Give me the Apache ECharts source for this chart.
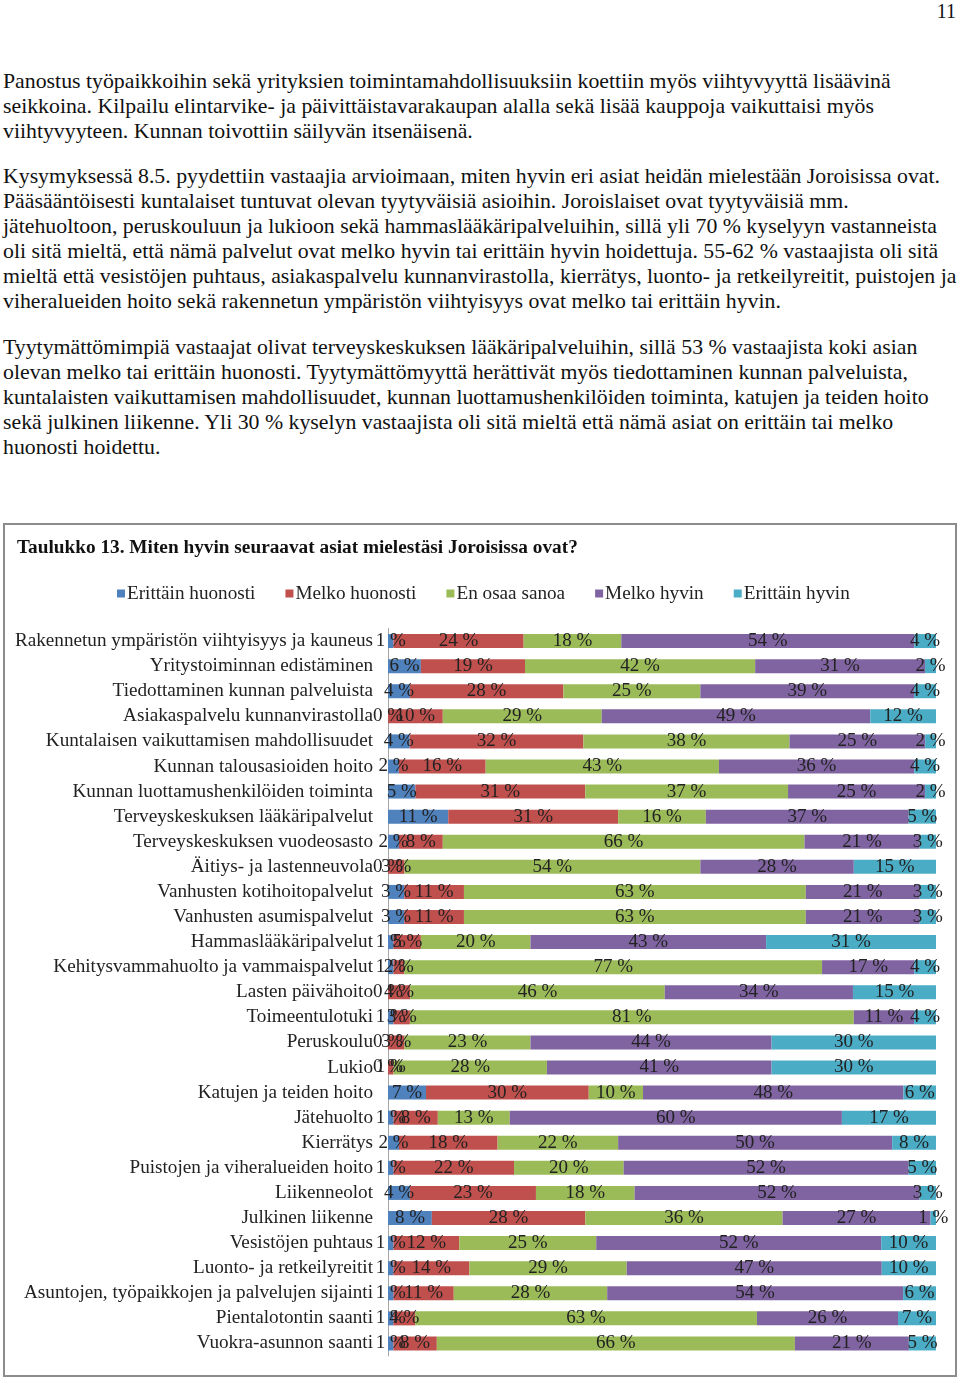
<!DOCTYPE html>
<html><head><meta charset="utf-8">
<script src="https://cdn.jsdelivr.net/npm/echarts@6/dist/echarts.min.js"></script>
<style>
html,body{margin:0;padding:0;background:#fff;}
body{width:960px;height:1379px;position:relative;overflow:hidden;font-family:'Liberation Serif','DejaVu Serif',serif;color:#111;}
.ln{position:absolute;left:3px;white-space:nowrap;font-size:21.8px;line-height:25px;}
#pg{position:absolute;right:4px;top:0px;font-size:20px;line-height:22px;}
#box{position:absolute;left:3px;top:523px;width:954px;height:854px;border:2px solid #8c8c8c;box-sizing:border-box;}
#chart{width:950px;height:850px;}
</style></head>
<body>
<div id="pg">11</div>
<div id="text"></div>
<div id="box"><div id="chart"></div></div>
<script>
const textLines = [
 [81,"Panostus työpaikkoihin sekä yrityksien toimintamahdollisuuksiin koettiin myös viihtyvyyttä lisäävinä"],
 [106,"seikkoina. Kilpailu elintarvike- ja päivittäistavarakaupan alalla sekä lisää kauppoja vaikuttaisi myös"],
 [131,"viihtyvyyteen. Kunnan toivottiin säilyvän itsenäisenä."],
 [176,"Kysymyksessä 8.5. pyydettiin vastaajia arvioimaan, miten hyvin eri asiat heidän mielestään Joroisissa ovat."],
 [201,"Pääsääntöisesti kuntalaiset tuntuvat olevan tyytyväisiä asioihin. Joroislaiset ovat tyytyväisiä mm."],
 [226,"jätehuoltoon, peruskouluun ja lukioon sekä hammaslääkäripalveluihin, sillä yli 70 % kyselyyn vastanneista"],
 [251,"oli sitä mieltä, että nämä palvelut ovat melko hyvin tai erittäin hyvin hoidettuja. 55-62 % vastaajista oli sitä"],
 [276,"mieltä että vesistöjen puhtaus, asiakaspalvelu kunnanvirastolla, kierrätys, luonto- ja retkeilyreitit, puistojen ja"],
 [301,"viheralueiden hoito sekä rakennetun ympäristön viihtyisyys ovat melko tai erittäin hyvin."],
 [347,"Tyytymättömimpiä vastaajat olivat terveyskeskuksen lääkäripalveluihin, sillä 53 % vastaajista koki asian"],
 [372,"olevan melko tai erittäin huonosti. Tyytymättömyyttä herättivät myös tiedottaminen kunnan palveluista,"],
 [397,"kuntalaisten vaikuttamisen mahdollisuudet, kunnan luottamushenkilöiden toiminta, katujen ja teiden hoito"],
 [422,"sekä julkinen liikenne. Yli 30 % kyselyn vastaajista oli sitä mieltä että nämä asiat on erittäin tai melko"],
 [447,"huonosti hoidettu."]
];
const tc = document.getElementById('text');
textLines.forEach(([y,t])=>{const d=document.createElement('div');d.className='ln';d.style.top=(y-12.5)+'px';d.textContent=t;tc.appendChild(d);});

const titleText = "Taulukko 13. Miten hyvin seuraavat asiat mielestäsi Joroisissa ovat?";
const seriesNames = ["Erittäin huonosti","Melko huonosti","En osaa sanoa","Melko hyvin","Erittäin hyvin"];
const colors = ["#4F81BD","#C0504D","#9BBB59","#8064A2","#4BACC6"];
const categories = [
 "Rakennetun ympäristön viihtyisyys ja kauneus",
 "Yritystoiminnan edistäminen",
 "Tiedottaminen kunnan palveluista",
 "Asiakaspalvelu kunnanvirastolla",
 "Kuntalaisen vaikuttamisen mahdollisuudet",
 "Kunnan talousasioiden hoito",
 "Kunnan luottamushenkilöiden toiminta",
 "Terveyskeskuksen lääkäripalvelut",
 "Terveyskeskuksen vuodeosasto",
 "Äitiys- ja lastenneuvola",
 "Vanhusten kotihoitopalvelut",
 "Vanhusten asumispalvelut",
 "Hammaslääkäripalvelut",
 "Kehitysvammahuolto ja vammaispalvelut",
 "Lasten päivähoito",
 "Toimeentulotuki",
 "Peruskoulu",
 "Lukio",
 "Katujen ja teiden hoito",
 "Jätehuolto",
 "Kierrätys",
 "Puistojen ja viheralueiden hoito",
 "Liikenneolot",
 "Julkinen liikenne",
 "Vesistöjen puhtaus",
 "Luonto- ja retkeilyreitit",
 "Asuntojen, työpaikkojen ja palvelujen sijainti",
 "Pientalotontin saanti",
 "Vuokra-asunnon saanti"
];
const erittainHuonosti = [1,6,4,0,4,2,5,11,2,0,3,3,1,1,0,1,0,0,7,1,2,1,4,8,1,1,1,1,1];
const melkoHuonosti    = [24,19,28,10,32,16,31,31,8,3,11,11,5,2,4,3,3,1,30,8,18,22,23,28,12,14,11,4,8];
const enOsaaSanoa      = [18,42,25,29,38,43,37,16,66,54,63,63,20,77,46,81,23,28,10,13,22,20,18,36,25,29,28,63,66];
const melkoHyvin       = [54,31,39,49,25,36,25,37,21,28,21,21,43,17,34,11,44,41,48,60,50,52,52,27,52,47,54,26,21];
const erittainHyvin    = [4,2,4,12,2,4,2,5,3,15,3,3,31,4,15,4,30,30,6,17,8,5,3,1,10,10,6,7,5];
const raw = [erittainHuonosti,melkoHuonosti,enOsaaSanoa,melkoHyvin,erittainHyvin];
const sums = categories.map((c,i)=>raw.reduce((s,a)=>s+a[i],0));

const chart = echarts.init(document.getElementById('chart'));
const FONT = "'Liberation Serif','DejaVu Serif',serif";
chart.setOption({
  animation:false,
  color:colors,
  title:{text:titleText,left:12,top:14,padding:0,textStyle:{fontFamily:FONT,fontSize:19.3,fontWeight:'bold',color:'#111'}},
  legend:{data:seriesNames,left:107,top:54,icon:'rect',itemWidth:8,itemHeight:8,itemGap:30,
    textStyle:{fontFamily:FONT,fontSize:19.2,color:'#222',padding:[0,0,0,-3]}},
  grid:{left:383,right:19,top:103.5,bottom:19,containLabel:false},
  xAxis:{type:'value',min:0,max:100,show:false},
  yAxis:{type:'category',data:categories,inverse:true,
    axisLine:{lineStyle:{color:'#a6a6a6',width:1}},axisTick:{show:false},
    axisLabel:{fontFamily:FONT,fontSize:19.2,color:'#222',margin:15}},
  series:raw.map((arr,k)=>({
    name:seriesNames[k],type:'bar',stack:'all',barWidth:14,
    data:arr.map((v,i)=>({value:v/sums[i]*100,raw:v})),
    itemStyle:{color:colors[k]},
    label:{show:true,position:'inside',fontFamily:FONT,fontSize:19,color:'#222',
      formatter:p=>p.data.raw+' %'}
  }))
});
</script>
</body></html>
